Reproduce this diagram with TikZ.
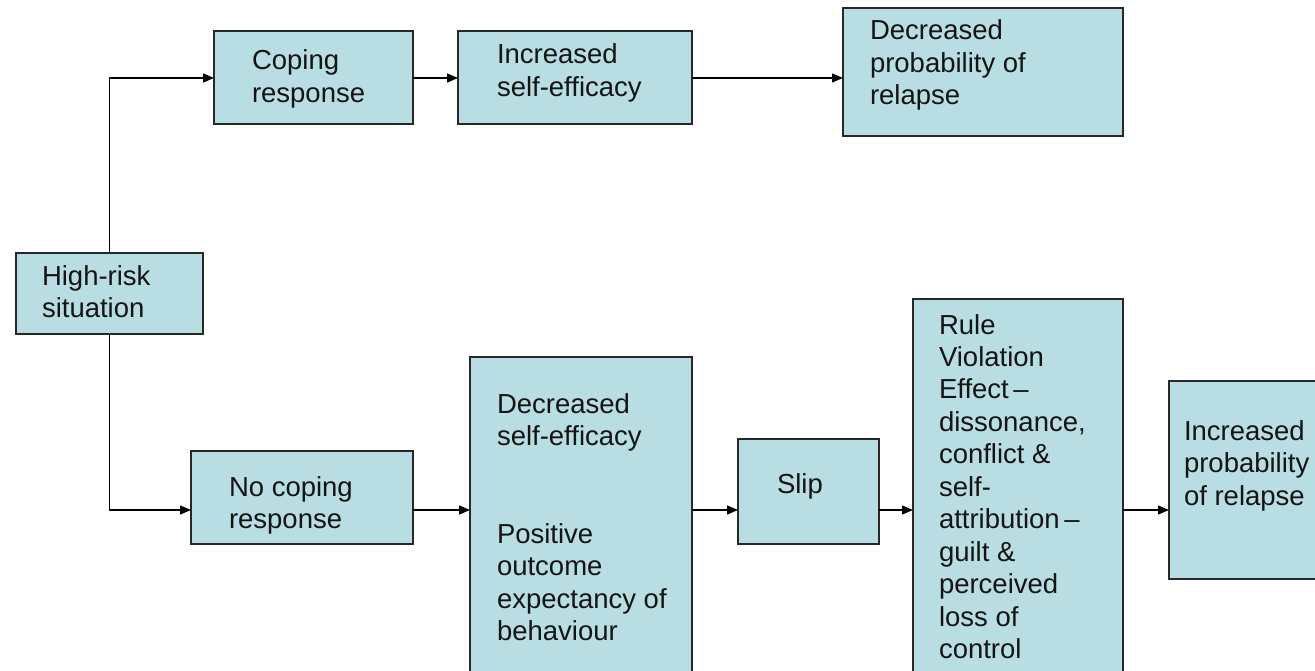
\documentclass[tikz,border=0pt]{standalone}
\usepackage{fontspec}
\setmainfont{Liberation Sans}
\usetikzlibrary{arrows.meta}
\definecolor{boxfill}{RGB}{184,221,227}
\definecolor{boxline}{RGB}{40,40,40}
\definecolor{txtcol}{RGB}{20,20,20}
\tikzset{
  box/.style={draw=boxline, line width=1.3pt, fill=boxfill, anchor=north west, inner sep=0pt, outer sep=0pt},
  txt/.style={anchor=base west, inner sep=0pt, outer sep=0pt, text=txtcol, font=\fontsize{27.5}{32.5}\selectfont},
  arr/.style={draw=black, line width=1.3pt, -{Triangle[length=11pt,width=9pt]}}
}
\newcommand{\boxtext}[1]{\parbox[t]{300pt}{\raggedright #1}}
\begin{document}
\begin{tikzpicture}[x=1pt,y=-1pt]
\clip (0,0) rectangle (1315,671);
\fill[white] (0,0) rectangle (1315,671);
% boxes
\node[box, minimum width=187pt, minimum height=81pt] (hr) at (16,253) {};
\node[box, minimum width=199pt, minimum height=93pt] (cop) at (214,31) {};
\node[box, minimum width=234pt, minimum height=93pt] (ise) at (458,31) {};
\node[box, minimum width=280pt, minimum height=128pt] (dpr) at (843,8) {};
\node[box, minimum width=222pt, minimum height=93pt] (nc) at (191,451) {};
\node[box, minimum width=222pt, minimum height=360pt] (dse) at (470,357) {};
\node[box, minimum width=141pt, minimum height=105pt] (slip) at (738,439) {};
\node[box, minimum width=210pt, minimum height=400pt] (rve) at (913,299) {};
\node[box, minimum width=170pt, minimum height=198pt] (ipr) at (1169,381) {};
% texts
\node[txt] (hrt) at (42,285) {\boxtext{High-risk\\situation}};
\node[txt] (copt) at (252,70) {\boxtext{Coping\\response}};
\node[txt] (iset) at (497,64) {\boxtext{Increased\\self-efficacy}};
\node[txt] (dprt) at (870,40) {\boxtext{Decreased\\probability of\\relapse}};
\node[txt] (nct) at (229,496) {\boxtext{No coping\\response}};
\node[txt] (dset) at (497,413) {\boxtext{Decreased\\self-efficacy\\[65pt]Positive\\outcome\\expectancy of\\behaviour}};
\node[txt] (slipt) at (777,493) {\boxtext{Slip}};
\node[txt] (rvet) at (939,334) {\boxtext{Rule\\Violation\\Effect\,--\\dissonance,\\conflict \&\\self-\\attribution\,--\\guilt \&\\perceived\\loss of\\control}};
\node[txt] (iprt) at (1184,440) {\boxtext{Increased\\probability\\of relapse}};
% connectors
\coordinate (lowy) at (0,510);
\coordinate (topy) at (0,78);
\draw[arr] (hr.north) |- (cop.west |- topy);
\draw[arr] (hr.south) |- (nc.west |- lowy);
\draw[arr] (cop.east |- topy) -- (ise.west |- topy);
\draw[arr] (ise.east |- topy) -- (dpr.west |- topy);
\draw[arr] (nc.east |- lowy) -- (dse.west |- lowy);
\draw[arr] (dse.east |- lowy) -- (slip.west |- lowy);
\draw[arr] (slip.east |- lowy) -- (rve.west |- lowy);
\draw[arr] (rve.east |- lowy) -- (ipr.west |- lowy);
\end{tikzpicture}
\end{document}
